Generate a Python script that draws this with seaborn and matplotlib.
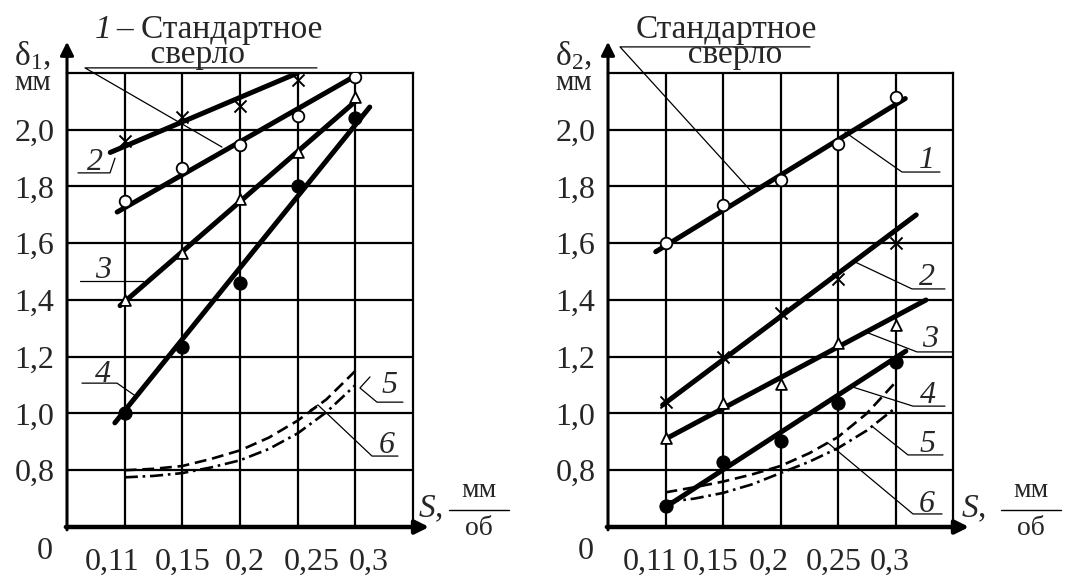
import numpy as np
import matplotlib
matplotlib.use("Agg")
import matplotlib.pyplot as plt
import matplotlib.transforms as mtrans
import seaborn as sns

# feed S, mm/rev (plotted at equally spaced positions 1..5)
s_labels = ["0,11", "0,15", "0,2", "0,25", "0,3"]
y_ticks = [0.8, 1.0, 1.2, 1.4, 1.6, 1.8, 2.0]
y_labels = ["0,8", "1,0", "1,2", "1,4", "1,6", "1,8", "2,0"]

# delta_1, mm  (left chart)
d1_std = [1.75, 1.865, 1.945, 2.05, 2.185]     # 1 - standard drill (open circles)
d1_2 = [1.96, 2.045, 2.085, 2.175]              # crosses, first four feeds
d1_3 = [1.40, 1.565, 1.755, 1.92, 2.115]        # triangles
d1_4 = [1.00, 1.235, 1.46, 1.80, 2.04]          # filled circles
# straight fitted lines (ends)
fit1_x = [[0.87, 5.0], [0.75, 4.0], [0.92, 5.03], [0.83, 5.25]]
fit1_y = [[1.71, 2.19], [1.92, 2.2], [1.38, 2.105], [0.967, 2.08]]
# calculated curves 5 (dashed) and 6 (dash-dot)
curve_s = [1, 1.5, 2, 2.5, 3, 3.5, 4, 4.5, 5]
d1_5 = [0.80, 0.805, 0.815, 0.84, 0.87, 0.915, 0.975, 1.05, 1.15]
d1_6 = [0.775, 0.78, 0.79, 0.81, 0.835, 0.875, 0.93, 1.005, 1.10]

# delta_2, mm  (right chart)
d2_std = [1.60, 1.735, 1.823, 1.95, 2.116]
d2_2 = [1.04, 1.20, 1.354, 1.474, 1.60]
d2_3 = [0.912, 1.037, 1.105, 1.249, 1.312]
d2_4 = [0.674, 0.829, 0.902, 1.038, 1.18]
fit2_x = [[0.83, 5.17], [0.95, 5.36], [1.0, 5.53], [1.0, 5.18]]
fit2_y = [[1.57, 2.11], [1.03, 1.70], [0.91, 1.40], [0.67, 1.22]]
d2_5 = [0.722, 0.74, 0.76, 0.785, 0.815, 0.86, 0.917, 1.0, 1.11]
d2_6 = [0.688, 0.70, 0.72, 0.75, 0.79, 0.83, 0.878, 0.94, 1.02]

sns.set_style("white")
plt.rcParams['font.family'] = ['Liberation Serif', 'DejaVu Serif']
plt.rcParams['mathtext.fontset'] = 'custom'
plt.rcParams['mathtext.rm'] = 'Liberation Serif'
plt.rcParams['mathtext.it'] = 'Liberation Serif:italic'

FS = 23
pos = np.arange(1, len(s_labels) + 1)


def draw_panel(ax, series, fits_x, fits_y, c5, c6, sub, lbl_shift, s_x, frac_x):
    ax.set_xlim(0, 6)
    ax.set_ylim(0.6, 2.2)
    ax.set_xticks(pos)
    ax.set_xticklabels(s_labels, fontsize=FS)
    ax.set_yticks(y_ticks)
    ax.set_yticklabels(y_labels, fontsize=FS)
    ax.tick_params(length=0)
    ax.tick_params(axis='x', pad=15)
    ax.tick_params(axis='y', pad=9)
    # the feed labels in the original are typed as one line, not exactly under the grid
    for lbl, dx in zip(ax.get_xticklabels(), lbl_shift):
        lbl.set_transform(lbl.get_transform() +
                          mtrans.ScaledTranslation(dx / 100, 0, ax.figure.dpi_scale_trans))
    ax.grid(True, color='k', lw=1.6)
    ax.set_axisbelow(True)
    for side in ['top', 'right']:
        ax.spines[side].set_color('k')
        ax.spines[side].set_linewidth(1.6)
    for side in ['left', 'bottom']:
        ax.spines[side].set_visible(False)

    # axes with arrows
    ax.annotate("", xy=(6.28, 0.6), xytext=(-0.02, 0.6), annotation_clip=False,
                arrowprops=dict(arrowstyle='-|>', color='k', lw=3.2, mutation_scale=20,
                                shrinkA=0, shrinkB=0))
    ax.annotate("", xy=(0, 2.31), xytext=(0, 0.59), annotation_clip=False,
                arrowprops=dict(arrowstyle='-|>', color='k', lw=2.2, mutation_scale=20,
                                shrinkA=0, shrinkB=0))

    for fx, fy in zip(fits_x, fits_y):
        sns.lineplot(x=fx, y=fy, color='k', lw=3.6, ax=ax, zorder=4)
    sns.lineplot(x=curve_s, y=c5, color='k', lw=1.9, linestyle=(0, (4.5, 2.2)), ax=ax, zorder=3)
    sns.lineplot(x=curve_s, y=c6, color='k', lw=1.9, linestyle=(0, (5, 1.8, 1, 1.8)), ax=ax, zorder=3)

    std, s2, s3, s4 = series
    sns.scatterplot(x=pos, y=std, marker='o', s=70, facecolor='white', edgecolor='k',
                    linewidth=1.3, ax=ax, zorder=6)
    sns.scatterplot(x=pos[:len(s2)], y=s2, marker='x', s=75, color='k', linewidth=1.4,
                    ax=ax, zorder=6)
    sns.scatterplot(x=pos, y=s3, marker='^', s=60, facecolor='white', edgecolor='k',
                    linewidth=1.3, ax=ax, zorder=6)
    sns.scatterplot(x=pos, y=s4, marker='o', s=90, color='k', edgecolor='k', ax=ax, zorder=6)

    # axis titles
    ax.text(-0.92, 2.228, "δ$_{%s}$," % sub, fontsize=24, ha='left', va='baseline')
    ax.text(-0.59, 2.14, "мм", fontsize=21, ha='center', va='baseline')
    ax.text(-0.38, 0.515, "0", fontsize=FS, ha='center', va='center')
    ax.text(s_x, 0.665, "$S$,", fontsize=24, ha='center', va='center')
    ax.text(frac_x, 0.705, "мм", fontsize=20, ha='center', va='baseline')
    ax.plot([frac_x - 0.52, frac_x + 0.52], [0.66, 0.66], color='k', lw=1.0, clip_on=False)
    ax.text(frac_x, 0.572, "об", fontsize=20, ha='center', va='baseline')


def put_labels(ax, labels):
    for txt, tx, ty, lx, ly in labels:
        ax.text(tx, ty, txt, fontsize=FS, fontstyle='italic', ha='center', va='baseline', zorder=8)
        ax.plot(lx, ly, color='k', lw=0.9, clip_on=False, zorder=7)


fig = plt.figure(figsize=(10.65, 5.77), dpi=100)
ax1 = fig.add_axes([67 / 1065, 50 / 577, 346 / 1065, 454 / 577])
ax2 = fig.add_axes([608 / 1065, 50 / 577, 345 / 1065, 454 / 577])

draw_panel(ax1, [d1_std, d1_2, d1_3, d1_4], fit1_x, fit1_y, d1_5, d1_6, "1",
           [-13, 0, 5, 14, 13], 6.3, 7.15)
draw_panel(ax2, [d2_std, d2_2, d2_3, d2_4], fit2_x, fit2_y, d2_5, d2_6, "2",
           [-15, -12, -12, -4, -6], 6.35, 7.36)

put_labels(ax1, [
    ("2", 0.49, 1.858, [0.19, 0.746, 0.832], [1.848, 1.848, 1.90]),
    ("3", 0.62, 1.478, [0.225, 1.318], [1.467, 1.467]),
    ("4", 0.62, 1.111, [0.26, 0.867, 1.214], [1.107, 1.107, 1.058]),
    ("5", 5.60, 1.072, [5.826, 5.375, 5.08, 5.254], [1.04, 1.04, 1.09, 1.129]),
    ("6", 5.55, 0.862, [5.74, 5.289, 4.352, 4.214], [0.85, 0.85, 1.03, 1.012]),
])
put_labels(ax2, [
    ("1", 5.55, 1.865, [5.774, 5.113, 4.12], [1.851, 1.851, 1.992]),
    ("2", 5.55, 1.453, [5.861, 5.287, 4.296], [1.439, 1.439, 1.534]),
    ("3", 5.60, 1.234, [6.0, 5.374, 4.522], [1.217, 1.217, 1.284]),
    ("4", 5.57, 1.037, [5.861, 5.304, 4.26], [1.026, 1.026, 1.093]),
    ("5", 5.55, 0.864, [5.826, 5.217, 4.609], [0.854, 0.854, 0.952]),
    ("6", 5.55, 0.653, [5.809, 5.304, 3.826], [0.646, 0.646, 0.896]),
])

# "1 - standard drill" captions (two lines in one text)
ax1.text(0.62, 2.323, "1", fontsize=24, fontstyle='italic', ha='center', va='baseline')
ax1.text(0.86, 2.235, "– Стандартное\n    сверло", fontsize=24, ha='left',
         va='baseline', multialignment='left', linespacing=0.78)
ax1.plot([4.335, 0.312, 2.688], [2.218, 2.218, 1.939], color='k', lw=0.9, clip_on=False)

ax2.text(2.06, 2.235, "Стандартное\n  сверло", fontsize=24, ha='center', va='baseline',
         multialignment='center', linespacing=0.78)
ax2.plot([3.513, 0.209, 2.47], [2.292, 2.292, 1.788], color='k', lw=0.9, clip_on=False)

fig.savefig("out.png", dpi=100)
